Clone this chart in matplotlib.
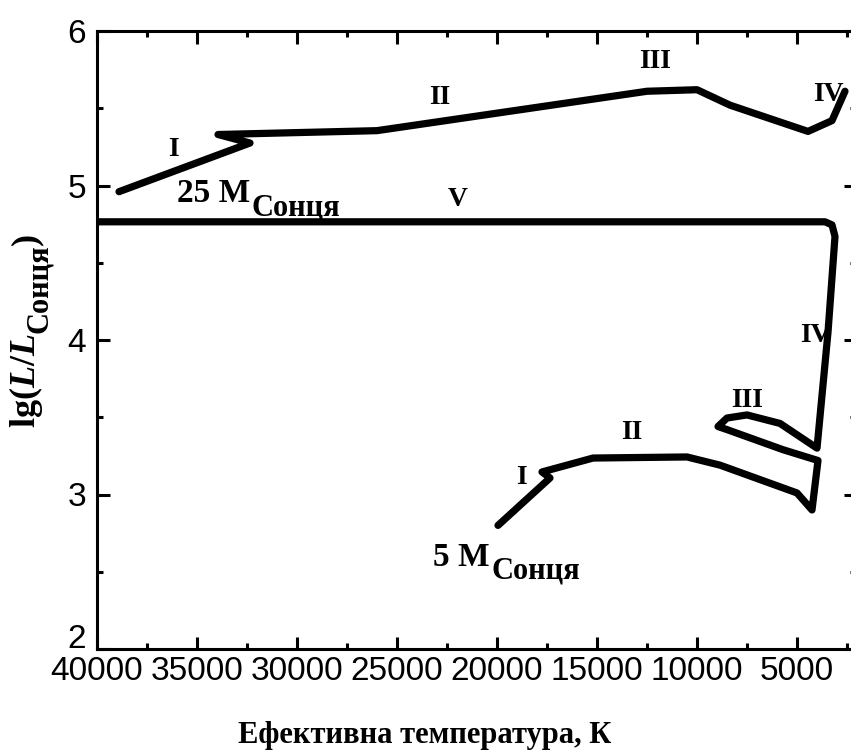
import matplotlib
matplotlib.use('Agg')
import matplotlib.pyplot as plt
from matplotlib.ticker import MultipleLocator, FuncFormatter

# Evolutionary tracks (Teff in K, lg L/Lsun)
t_25 = [38900, 32350, 33950, 26000, 12500, 10000, 8350, 4450, 3250, 2600]
lg_25 = [4.96, 5.275, 5.33, 5.355, 5.61, 5.62, 5.52, 5.35, 5.42, 5.61]

t_5 = [19950, 17350, 17750, 15200, 10500, 8850, 5000, 4250, 3950,
       5700, 8500, 8950, 8500, 7500, 5850, 4000,
       3450, 3100, 3250, 3600, 40000]
lg_5 = [2.80, 3.107, 3.146, 3.236, 3.243, 3.19, 3.01, 2.90, 3.22,
        3.29, 3.42, 3.44, 3.495, 3.515, 3.46, 3.30,
        4.05, 4.67, 4.745, 4.765, 4.765]

# Stage labels: text, Teff, lg L
stage_text = ['I', 'II', 'III', 'IV', 'V', 'I', 'II', 'III', 'IV']
stage_t = [36200, 22850, 12100, 3450, 21950, 18800, 13250, 7500, 4100]
stage_lg = [5.23, 5.57, 5.80, 5.59, 4.91, 3.11, 3.40, 3.61, 4.03]

# Mass labels (left edge / baseline of the text)
mass_text = ['25 M', '5 M']
mass_t = [36000, 23200]
mass_lg = [4.89, 2.54]
sun_sub = 'Сонця'

y_bottom = 2

plt.rcParams['mathtext.fontset'] = 'custom'
plt.rcParams['mathtext.rm'] = 'Liberation Serif:bold'
plt.rcParams['mathtext.it'] = 'Liberation Serif:italic:bold'
plt.rcParams['mathtext.bf'] = 'Liberation Serif:bold'

W, H = 851, 751
fig = plt.figure(figsize=(W / 100, H / 100), dpi=100)
ax = fig.add_axes([97 / W, 1 - 649 / H, 759 / W, 618 / H])

line_kw = dict(color='black', linewidth=5.2, solid_capstyle='round', solid_joinstyle='round')
ax.plot(t_25, lg_25, **line_kw)
ax.plot(t_5, lg_5, **line_kw)

serif = dict(family='Liberation Serif', fontweight='bold')
for s, t, l in zip(stage_text, stage_t, stage_lg):
    ax.text(t, l, s, ha='center', va='center', fontsize=20, **serif)
for s, t, l in zip(mass_text, mass_t, mass_lg):
    main = ax.text(t, l, s, ha='left', va='baseline', fontsize=24, **serif)
    ax.annotate(sun_sub, xy=(1, 0), xycoords=main, xytext=(1, -4),
                textcoords='offset points', ha='left', va='baseline',
                fontsize=22, **serif)

ax.set_xlim(40000, 2050)
ax.set_ylim(y_bottom, 6)
ax.xaxis.set_major_locator(MultipleLocator(5000))
ax.xaxis.set_minor_locator(MultipleLocator(2500))
ax.yaxis.set_major_locator(MultipleLocator(1))
ax.yaxis.set_minor_locator(MultipleLocator(0.5))
# the bottom "2" sits just above the corner, drawn separately below
ax.yaxis.set_major_formatter(FuncFormatter(lambda v, p: '' if v == y_bottom else f'{v:g}'))
ax.tick_params(which='both', direction='in', top=True, right=True, width=2.2)
ax.tick_params(which='major', length=9)
ax.tick_params(which='minor', length=4.5)
ax.tick_params(labelsize=24)
ax.tick_params(axis='x', pad=5)
ax.tick_params(axis='y', pad=8)
for lab in ax.get_xticklabels() + ax.get_yticklabels():
    lab.set_family('Liberation Sans')
for sp in ax.spines.values():
    sp.set_linewidth(2.2)
ax.annotate(f'{y_bottom:g}', xy=(0, y_bottom), xycoords=('axes fraction', 'data'),
            xytext=(-8, 1), textcoords='offset points', ha='right', va='baseline',
            fontsize=24, family='Liberation Sans', annotation_clip=False)

ax.set_xlabel('Ефективна температура, К', fontsize=22, **serif)
ax.xaxis.set_label_coords((425 - 97) / 759, -0.116)

# y label: lg(L/L_Сонця), built from pieces so the subscript can stay large
rot = dict(rotation=90, rotation_mode='anchor', ha='left', va='baseline',
           annotation_clip=False, **serif)
ylab = ax.annotate('$\\mathrm{lg(}L\\mathrm{/}L$', xy=(35, H - 428),
                   xycoords='figure pixels', fontsize=26, **rot)
ysub = ax.annotate(sun_sub, xy=(47, 1), xycoords=('figure pixels', ylab),
                   fontsize=22, **rot)
ax.annotate(')', xy=(35, 1), xycoords=('figure pixels', ysub), fontsize=26, **rot)

fig.savefig('out.png', dpi=100)
